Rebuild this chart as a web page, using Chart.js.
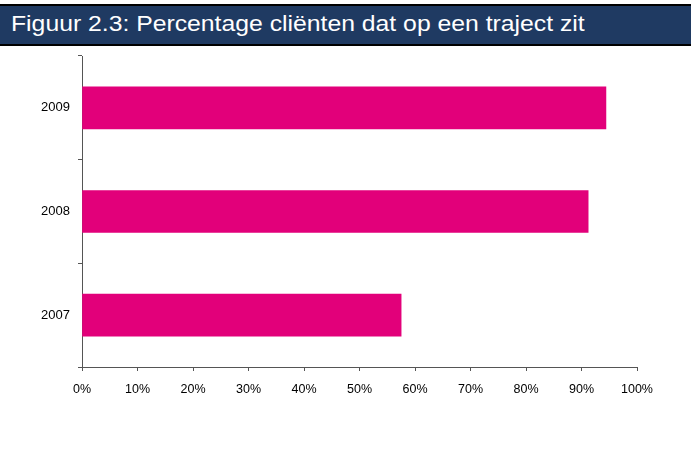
<!DOCTYPE html>
<html>
<head>
<meta charset="utf-8">
<script src="https://cdn.jsdelivr.net/npm/chart.js@4/dist/chart.umd.min.js"></script>
<style>
  html, body { margin: 0; padding: 0; background: #fff; }
  #wrap { position: relative; width: 691px; height: 451px; overflow: hidden; }
  #title {
    position: absolute; left: 0; top: 4px; width: 691px; height: 38px;
    background: #1F3A62; border-top: 2px solid #000; border-bottom: 2px solid #000;
    color: #fff; font-family: "Liberation Sans", Arial, sans-serif; font-size: 22px;
    line-height: 36px; white-space: nowrap;
  }
  #title span { position: absolute; left: 11px; top: 0; display: inline-block; transform: scaleX(1.125); transform-origin: 0 0; }
  canvas { position: absolute; left: 0; top: 0; }
</style>
</head>
<body>
<div id="wrap">
  <canvas id="c" width="691" height="451"></canvas>
  <div id="title"><span>Figuur 2.3: Percentage cliënten dat op een traject zit</span></div>
</div>
<script>
const categories = ['2007', '2008', '2009'];
const percentages = [57.5, 91.2, 94.4];
const tickValues = [0, 10, 20, 30, 40, 50, 60, 70, 80, 90, 100];

new Chart(document.getElementById('c'), {
  type: 'bar',
  data: {
    labels: categories,
    datasets: [{
      data: percentages,
      backgroundColor: '#E2007A',
      borderWidth: 0,
      barThickness: 42
    }]
  },
  options: {
    indexAxis: 'y',
    responsive: false,
    animation: false,
    layout: { padding: { top: 56, right: 54, left: 0, bottom: 0 } },
    plugins: { legend: { display: false }, tooltip: { enabled: false }, title: { display: false } },
    scales: {
      x: {
        min: 0, max: 100,
        afterBuildTicks: (s) => { s.ticks = tickValues.map(v => ({ value: v })); },
        afterFit: (s) => { s.height = 84; },
        grid: { drawOnChartArea: false, tickLength: 4, color: '#555' },
        border: { color: '#555', width: 1 },
        ticks: {
          color: '#000', padding: 11,
          font: { family: 'Liberation Sans, Arial, sans-serif', size: 12.5 },
          callback: (v) => v + '%', maxRotation: 0, autoSkip: false
        }
      },
      y: {
        reverse: true,
        offset: true,
        afterFit: (s) => { s.width = 82; },
        grid: { offset: true, drawOnChartArea: false, tickLength: 4, color: '#555' },
        border: { color: '#555', width: 1 },
        ticks: {
          color: '#000', padding: 8,
          font: { family: 'Liberation Sans, Arial, sans-serif', size: 13 }
        }
      }
    }
  }
});
</script>
</body>
</html>
